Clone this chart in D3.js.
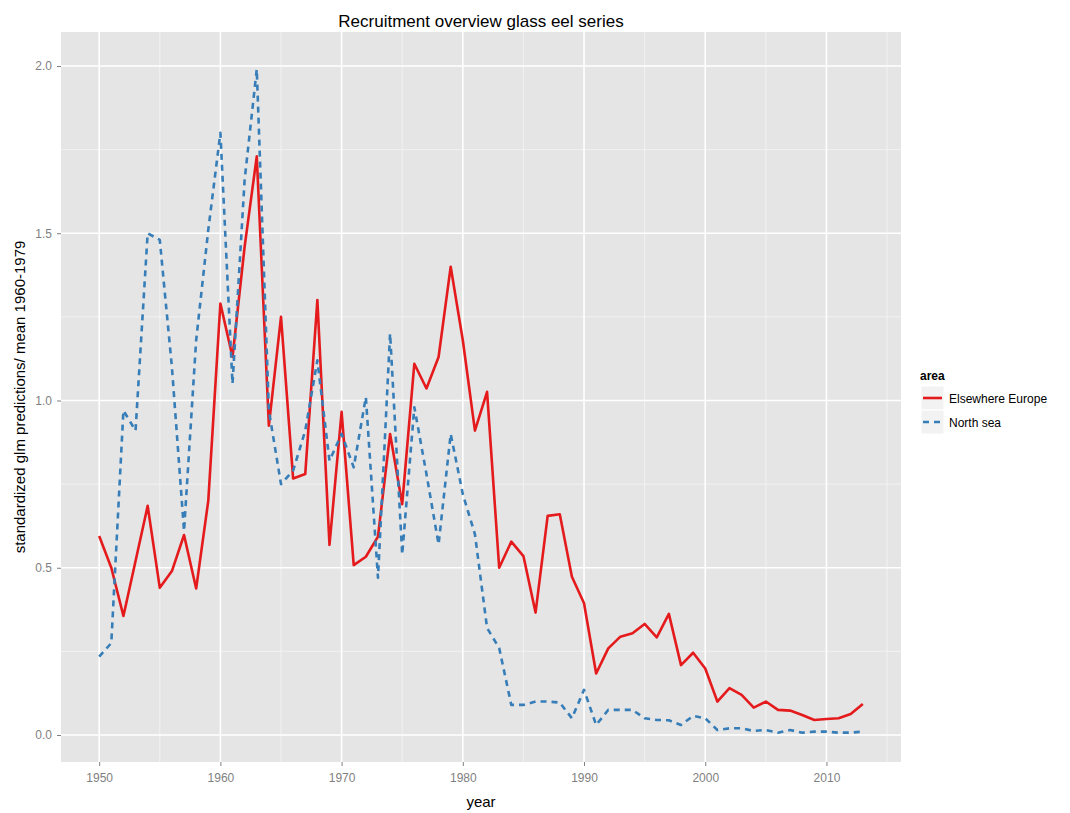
<!DOCTYPE html>
<html>
<head>
<meta charset="utf-8">
<script src="https://cdn.jsdelivr.net/npm/d3@7"></script>
<style>
  body { margin: 0; background: #fff; }
  text { font-family: "Liberation Sans", Arial, sans-serif; }
</style>
</head>
<body>
<script>
// years 1950-2013
var years = d3.range(1950, 2014);

// Elsewhere Europe
var elsewhere = [0.595, 0.50, 0.356, 0.52, 0.685, 0.44, 0.49, 0.598, 0.438, 0.70,
  1.29, 1.13, 1.46, 1.73, 0.925, 1.25, 0.767, 0.78, 1.30, 0.568,
  0.966, 0.508, 0.533, 0.593, 0.90, 0.69, 1.11, 1.036, 1.13, 1.40,
  1.18, 0.91, 1.026, 0.50, 0.578, 0.535, 0.366, 0.655, 0.66, 0.473,
  0.394, 0.184, 0.259, 0.294, 0.304, 0.332, 0.292, 0.362, 0.209, 0.246,
  0.199, 0.10, 0.14, 0.12, 0.082, 0.10, 0.075, 0.073, 0.06, 0.045,
  0.048, 0.05, 0.063, 0.093];

// North sea
var northSea = [0.234, 0.275, 0.97, 0.91, 1.50, 1.48, 1.10, 0.61, 1.18, 1.51,
  1.80, 1.05, 1.66, 1.99, 0.97, 0.75, 0.79, 0.91, 1.12, 0.82,
  0.90, 0.80, 1.01, 0.47, 1.20, 0.54, 0.98, 0.78, 0.57, 0.90,
  0.72, 0.60, 0.32, 0.26, 0.09, 0.09, 0.10, 0.10, 0.097, 0.05,
  0.135, 0.03, 0.075, 0.075, 0.075, 0.05, 0.045, 0.044, 0.03, 0.057,
  0.05, 0.015, 0.02, 0.02, 0.012, 0.015, 0.007, 0.015, 0.007, 0.01,
  0.01, 0.007, 0.007, 0.01];

var xTicks = [1950, 1960, 1970, 1980, 1990, 2000, 2010];
var xMinor = [1955, 1965, 1975, 1985, 1995, 2005, 2015];
var yTicks = [0, 0.5, 1, 1.5, 2];
var yMinor = [0.25, 0.75, 1.25, 1.75];

var series = [
  {name: "Elsewhere Europe", values: elsewhere, color: "#E41A1C", dash: null},
  {name: "North sea", values: northSea, color: "#377EB8", dash: "6,5"}
];

var width = 1070, height = 813;
var panel = {left: 61, right: 901, top: 32, bottom: 762};

var svg = d3.select(document.body).append("svg")
  .attr("width", width).attr("height", height);

var x = d3.scaleLinear().domain([1946.85, 2016.15]).range([panel.left, panel.right]);
var y = d3.scaleLinear().domain([-0.0807, 2.1016]).range([panel.bottom, panel.top]);

// panel background
svg.append("rect")
  .attr("x", panel.left).attr("y", panel.top)
  .attr("width", panel.right - panel.left).attr("height", panel.bottom - panel.top)
  .attr("fill", "#E5E5E5");

// minor grid
var grid = svg.append("g");
grid.selectAll(".xminor").data(xMinor.filter(function(d) { return x(d) < panel.right; }))
  .enter().append("line")
  .attr("x1", function(d) { return x(d); }).attr("x2", function(d) { return x(d); })
  .attr("y1", panel.top).attr("y2", panel.bottom)
  .attr("stroke", "#F2F2F2").attr("stroke-width", 1);
grid.selectAll(".yminor").data(yMinor)
  .enter().append("line")
  .attr("y1", function(d) { return y(d); }).attr("y2", function(d) { return y(d); })
  .attr("x1", panel.left).attr("x2", panel.right)
  .attr("stroke", "#F2F2F2").attr("stroke-width", 1);

// major grid
grid.selectAll(".xmajor").data(xTicks)
  .enter().append("line")
  .attr("x1", function(d) { return x(d); }).attr("x2", function(d) { return x(d); })
  .attr("y1", panel.top).attr("y2", panel.bottom)
  .attr("stroke", "#fff").attr("stroke-width", 1.6);
grid.selectAll(".ymajor").data(yTicks)
  .enter().append("line")
  .attr("y1", function(d) { return y(d); }).attr("y2", function(d) { return y(d); })
  .attr("x1", panel.left).attr("x2", panel.right)
  .attr("stroke", "#fff").attr("stroke-width", 1.6);

// axes
var xAxis = svg.append("g")
  .attr("transform", "translate(0," + panel.bottom + ")")
  .call(d3.axisBottom(x).tickValues(xTicks).tickFormat(d3.format("d")).tickSize(4).tickPadding(7));
var yAxis = svg.append("g")
  .attr("transform", "translate(" + panel.left + ",0)")
  .call(d3.axisLeft(y).tickValues(yTicks).tickFormat(d3.format(".1f")).tickSize(4).tickPadding(5));
[xAxis, yAxis].forEach(function(a) {
  a.select(".domain").remove();
  a.selectAll(".tick line").attr("stroke", "#7F7F7F");
  a.selectAll(".tick text").attr("fill", "#7F7F7F").style("font-size", "12px")
    .style("font-family", "'Liberation Sans', Arial, sans-serif");
});

// lines
var line = d3.line()
  .x(function(d, i) { return x(years[i]); })
  .y(function(d) { return y(d); });

svg.append("g").selectAll("path").data(series).enter().append("path")
  .attr("d", function(s) { return line(s.values); })
  .attr("fill", "none")
  .attr("stroke", function(s) { return s.color; })
  .attr("stroke-width", 2.6)
  .attr("stroke-dasharray", function(s) { return s.dash; })
  .attr("stroke-linejoin", "round");

// title and labels
svg.append("text").attr("x", (panel.left + panel.right) / 2).attr("y", 27)
  .attr("text-anchor", "middle").style("font-size", "17px").attr("fill", "#000")
  .text("Recruitment overview glass eel series");
svg.append("text").attr("x", (panel.left + panel.right) / 2).attr("y", 807)
  .attr("text-anchor", "middle").style("font-size", "15px").attr("fill", "#000")
  .text("year");
svg.append("text")
  .attr("transform", "translate(25," + (panel.top + panel.bottom) / 2 + ") rotate(-90)")
  .attr("text-anchor", "middle").style("font-size", "15px").attr("fill", "#000")
  .text("standardized glm predictions/ mean 1960-1979");

// legend
var legend = svg.append("g").attr("transform", "translate(920,0)");
legend.append("text").attr("x", 0).attr("y", 380)
  .style("font-size", "12px").style("font-weight", "bold").text("area");
var items = legend.selectAll(".item").data(series).enter().append("g")
  .attr("transform", function(d, i) { return "translate(0," + (386 + i * 24) + ")"; });
items.append("rect").attr("x", 1).attr("y", 0).attr("width", 23).attr("height", 24)
  .attr("fill", "#F2F2F2").attr("stroke", "#fff");
items.append("line").attr("x1", 3).attr("x2", 22).attr("y1", 12).attr("y2", 12)
  .attr("stroke", function(d) { return d.color; }).attr("stroke-width", 2.6)
  .attr("stroke-dasharray", function(d) { return d.dash ? "6,5" : null; });
items.append("text").attr("x", 29).attr("y", 16.5)
  .style("font-size", "12px").attr("fill", "#000")
  .text(function(d) { return d.name; });
</script>
</body>
</html>
